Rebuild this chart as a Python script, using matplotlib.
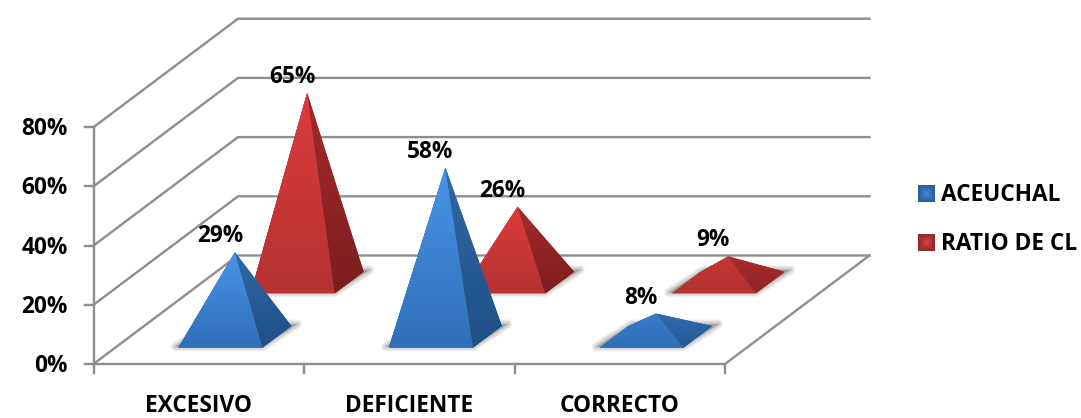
import matplotlib
matplotlib.use("Agg")
import matplotlib.pyplot as plt
import numpy as np
from matplotlib.colors import to_rgb
from matplotlib.patches import Polygon

plt.rcParams['font.family'] = ['Open Sans', 'DejaVu Sans']
plt.rcParams['font.weight'] = 'bold'

categories = ["EXCESIVO", "DEFICIENTE", "CORRECTO"]
series_names = ["ACEUCHAL", "RATIO DE CL"]
aceuchal = [29, 58, 8]
ratio_cl = [65, 26, 9]
y_ticks = [0, 20, 40, 60, 80]

# oblique projection of the 3D box onto figure pixels
X0, Y0 = 93.5, 364.
CAT_W = 210.5
DEPTH_X, DEPTH_Y = 144.5, 108.5
PCT = 2.96       # pixels per percent on the axis
PCT_MARK = 2.92  # pyramids come out a touch flatter than the axis
FS = 16.3


def proj(c, d, v=0., scale=PCT):
    return X0 + CAT_W*c + DEPTH_X*d, Y0 - DEPTH_Y*d - scale*v


def mix(a, b, t):
    return (1-t)*np.array(to_rgb(a)) + t*np.array(to_rgb(b))


def fill_gradient(ax, pts, top, bottom, z):
    # polygon underneath keeps the edge smooth, the image clipped on it gives the shading
    pts = np.array(pts)
    poly = Polygon(pts, closed=True, facecolor=mix(top, bottom, 0.5), edgecolor='none', zorder=z)
    ax.add_patch(poly)
    t = np.linspace(0, 1, 64)[:, None, None]
    grad = (1-t)*np.array(to_rgb(top))[None, None, :] + t*np.array(to_rgb(bottom))[None, None, :]
    im = ax.imshow(grad, extent=[pts[:, 0].min(), pts[:, 0].max(), pts[:, 1].max(), pts[:, 1].min()],
                   aspect='auto', zorder=z+0.1, interpolation='bilinear')
    clip = Polygon(pts, closed=True, transform=ax.transData)
    im.set_clip_path(clip)


def pyramid(ax, c, d, value, colors, z):
    hw, hd = 0.2, 0.1
    fl = proj(c-hw, d-hd)
    fr = proj(c+hw, d-hd)
    br = proj(c+hw, d+hd)
    bl = proj(c-hw, d+hd)
    apex = proj(c, d, value, PCT_MARK)

    # soft floor shadow, stacked faint strokes
    sh = [(fl[0]-3, fl[1]-1), (fr[0], fr[1]-1), (br[0]+6, br[1]-2), (bl[0]+4, bl[1]-2)]
    for lw in np.arange(1, 11):
        ax.add_patch(Polygon(sh, closed=True, facecolor=(0, 0, 0, 0.02), edgecolor=(0, 0, 0, 0.025),
                             linewidth=lw*0.72, joinstyle='round', zorder=z))

    # low pyramids have less room for the shading to run
    frac = min(1., value/25.)
    top = mix(colors[1], colors[0], frac)
    side_top = mix(colors[1], colors[2], 0.5 + 0.5*frac)
    side_bot = mix(colors[1], colors[3], 0.5 + 0.5*frac)
    fill_gradient(ax, [fl, bl, apex], top, colors[1], z+1)
    fill_gradient(ax, [fl, fr, apex], top, colors[1], z+2)
    fill_gradient(ax, [fr, br, apex], side_top, side_bot, z+3)
    return apex


fig = plt.figure(figsize=(10.81, 4.18), dpi=100)
ax = fig.add_axes([0, 0, 1, 1])

# walls and floor
grid_col = '#8e8e8e'
lw = 1.7
for v in y_ticks:
    a = proj(0, 0, v)
    b = proj(0, 1, v)
    e = proj(3, 1, v)
    ax.plot([a[0], b[0], e[0]], [a[1], b[1], e[1]], color=grid_col, lw=lw, zorder=1, solid_joinstyle='miter')
    ax.plot([a[0]-9, a[0]], [a[1], a[1]], color=grid_col, lw=lw, zorder=1)
    ax.text(68, a[1]+2, "%d%%" % v, ha='right', va='center', fontsize=FS, color='black', zorder=30)

p0 = proj(0, 0, 0)
p1 = proj(0, 0, y_ticks[-1])
ax.plot([p0[0], p1[0]], [p0[1], p1[1]], color=grid_col, lw=lw, zorder=1)
f0 = proj(3, 0)
f1 = proj(3, 1)
ax.plot([p0[0], f0[0], f1[0]], [p0[1], f0[1], f1[1]], color=grid_col, lw=lw, zorder=1)
for c in range(len(categories)+1):
    t = proj(c, 0)
    ax.plot([t[0], t[0]], [t[1], t[1]+9], color=grid_col, lw=lw, zorder=1)

for i, name in enumerate(categories):
    t = proj(i+0.5, 0)
    ax.text(t[0], 406, name, ha='center', va='center', fontsize=FS, color='black', zorder=30)

blue = ['#4a94e6', '#2f6fb8', '#2f69a8', '#1f4f86']
red = ['#dc3c3c', '#b53232', '#a52a2a', '#7c1e1e']

# back row first so the front row covers it
z = 5
for i, v in enumerate(ratio_cl):
    apex = pyramid(ax, i+0.5, 0.75, v, red, z)
    z += 5
    ax.annotate("%d%%" % v, apex, xytext=(-15, 16), textcoords='offset pixels', ha='center', va='center',
                fontsize=FS, color='black', zorder=30)
for i, v in enumerate(aceuchal):
    apex = pyramid(ax, i+0.5, 0.25, v, blue, z)
    z += 5
    ax.annotate("%d%%" % v, apex, xytext=(-15, 16), textcoords='offset pixels', ha='center', va='center',
                fontsize=FS, color='black', zorder=30)

# legend swatches, lighter in the middle
gx, gy = np.meshgrid(np.linspace(-1, 1, 17), np.linspace(-1, 1, 17))
r = np.maximum(np.abs(gx), np.abs(gy))[:, :, None]
for name, cols, y in zip(series_names, [('#3f8ad8', '#2b5c95'), ('#d94040', '#8f2a2a')], [194, 242.5]):
    sw = (1-r)*np.array(to_rgb(cols[0])) + r*np.array(to_rgb(cols[1]))
    ax.imshow(sw, extent=[918, 935, y+8.5, y-8.5], aspect='auto', zorder=20, interpolation='bilinear')
    ax.text(941, y+1, name, ha='left', va='center', fontsize=FS, color='black', zorder=30)

ax.set_xlim(0, 1081)
ax.set_ylim(418, 0)
ax.axis('off')
fig.savefig("out.png", dpi=100, facecolor='white')
